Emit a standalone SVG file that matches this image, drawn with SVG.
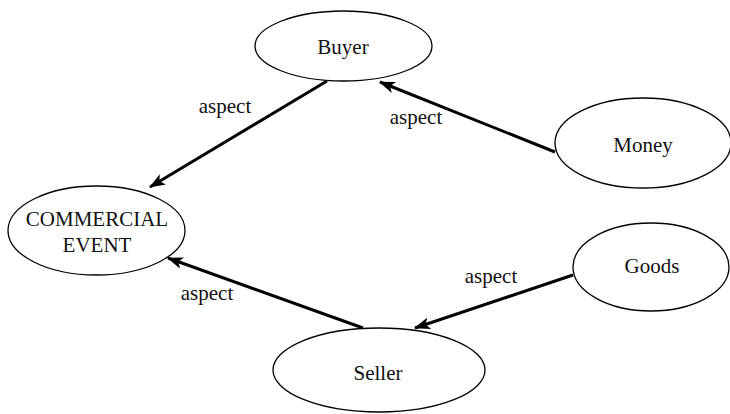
<svg xmlns="http://www.w3.org/2000/svg" width="730" height="414" viewBox="0 0 730 414">
<defs>
<style>
.node ellipse{fill:#fff;stroke:#000;stroke-width:1.3}
text{font-family:"Liberation Serif","Times New Roman",serif;font-size:21px;fill:#111;text-anchor:middle}
.edges line{stroke:#000;stroke-width:3}
</style>
<marker id="arr" viewBox="0 0 16 12" refX="15" refY="6" markerWidth="16" markerHeight="12" markerUnits="userSpaceOnUse" orient="auto">
<path d="M0,0 L16,6 L0,12 L4,6 Z" fill="#000"/>
</marker>
</defs>
<rect width="730" height="414" fill="#fff"/>
<g class="edges">
<line x1="327" y1="81" x2="150" y2="187" marker-end="url(#arr)"/>
<line x1="555" y1="152" x2="380" y2="82" marker-end="url(#arr)"/>
<line x1="363" y1="328" x2="168" y2="258" marker-end="url(#arr)"/>
<line x1="573" y1="275" x2="415" y2="328" marker-end="url(#arr)"/>
<text x="225" y="113">aspect</text>
<text x="416" y="124">aspect</text>
<text x="207" y="300">aspect</text>
<text x="491" y="283">aspect</text>
</g>
<g id="buyer" class="node"><ellipse cx="343.5" cy="46" rx="88.5" ry="35"/><text x="343" y="54">Buyer</text></g>
<g id="money" class="node"><ellipse cx="643" cy="143" rx="88" ry="45"/><text x="643" y="152">Money</text></g>
<g id="commercial-event" class="node"><ellipse cx="96.5" cy="230.5" rx="88.5" ry="44.5"/><text x="97" y="226">COMMERCIAL</text><text x="97" y="252">EVENT</text></g>
<g id="goods" class="node"><ellipse cx="651" cy="267" rx="78" ry="44"/><text x="652" y="273">Goods</text></g>
<g id="seller" class="node"><ellipse cx="379" cy="370" rx="106" ry="42"/><text x="378" y="380">Seller</text></g>
</svg>
